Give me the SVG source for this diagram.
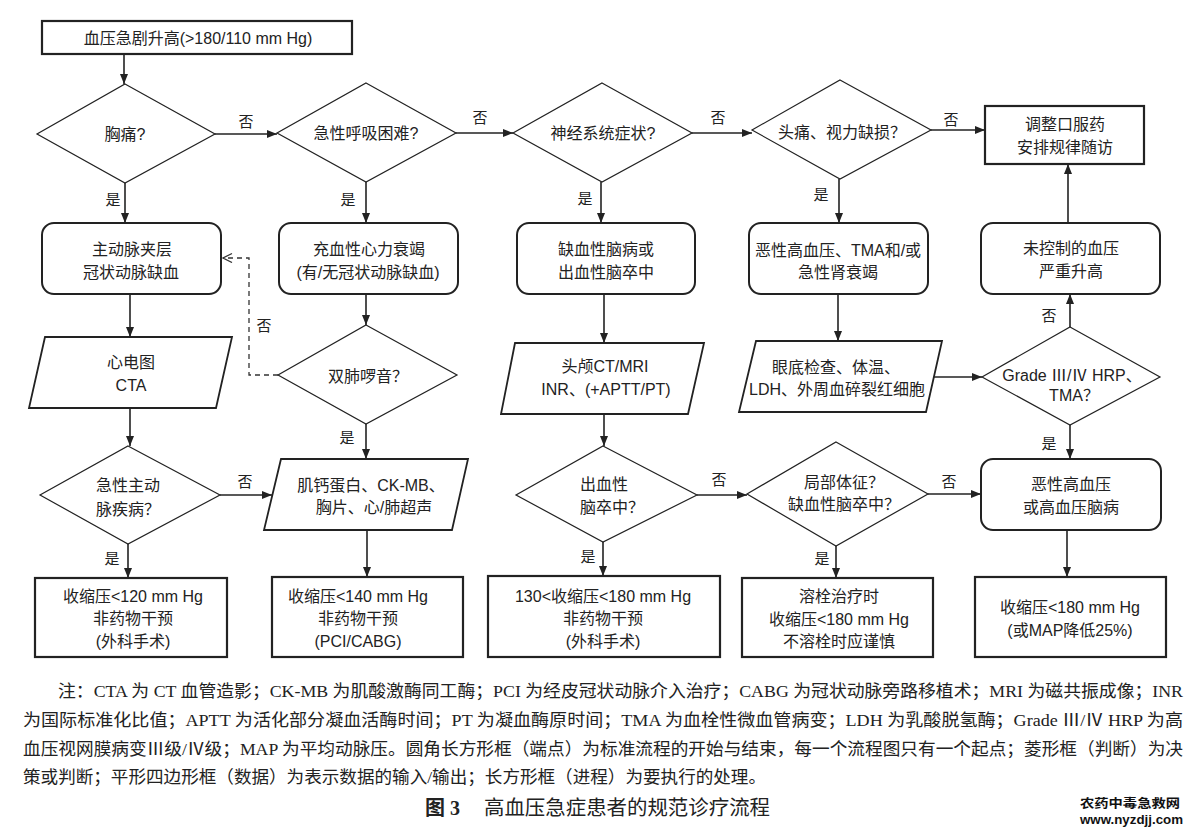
<svg xmlns="http://www.w3.org/2000/svg" width="1191" height="832" viewBox="0 0 1191 832">
<style>
.t{font-family:"Liberation Sans","Noto Sans CJK SC",sans-serif;font-size:16px;fill:#222;text-anchor:middle;dominant-baseline:central}
.lb{font-family:"Noto Sans CJK SC",sans-serif;font-size:15px;fill:#222;text-anchor:middle;dominant-baseline:central}
.box{fill:#fff;stroke:#222;stroke-width:2.2}
.rbox{fill:#fff;stroke:#222;stroke-width:2}
.dia{fill:#fff;stroke:#222;stroke-width:1.2}
.par{fill:#fff;stroke:#222;stroke-width:1.8}
.ln{fill:none;stroke:#222;stroke-width:1.6}
.dash{fill:none;stroke:#333;stroke-width:1.3;stroke-dasharray:5,4}
.note{font-family:"Liberation Serif","Noto Sans CJK SC",serif;font-size:17.5px;fill:#222}
</style>
<defs>
<marker id="ah" markerUnits="userSpaceOnUse" markerWidth="10" markerHeight="8" refX="10" refY="4" orient="auto">
<path d="M0,0 L10,4 L0,8 z" fill="#222"/>
</marker>
<marker id="ao" markerUnits="userSpaceOnUse" markerWidth="12" markerHeight="12" refX="10" refY="5" orient="auto">
<path d="M1,0.5 L10,5 L1,9.5" fill="none" stroke="#333" stroke-width="1.3"/>
</marker>
</defs>
<rect width="1191" height="832" fill="#fff"/>

<g id="connectors">
<path class="ln" d="M124,54 V84" marker-end="url(#ah)"/>
<path class="ln" d="M215,134 H277" marker-end="url(#ah)"/>
<path class="ln" d="M456,133 H513" marker-end="url(#ah)"/>
<path class="ln" d="M692,133 H752" marker-end="url(#ah)"/>
<path class="ln" d="M931,130 H985" marker-end="url(#ah)"/>
<path class="ln" d="M125,183 V223" marker-end="url(#ah)"/>
<path class="ln" d="M366,182 V223" marker-end="url(#ah)"/>
<path class="ln" d="M601,182 V223" marker-end="url(#ah)"/>
<path class="ln" d="M839,179 V223" marker-end="url(#ah)"/>
<path class="ln" d="M1068,223 V164" marker-end="url(#ah)"/>
<path class="ln" d="M130,294 V337" marker-end="url(#ah)"/>
<path class="ln" d="M366,294 V325" marker-end="url(#ah)"/>
<path class="ln" d="M604,294 V343" marker-end="url(#ah)"/>
<path class="ln" d="M838,294 V341" marker-end="url(#ah)"/>
<path class="dash" d="M278,375 H249 V258 H223" marker-end="url(#ao)"/>
<path class="ln" d="M934,377 H982" marker-end="url(#ah)"/>
<path class="ln" d="M1070,327 V294" marker-end="url(#ah)"/>
<path class="ln" d="M1070,425 V459" marker-end="url(#ah)"/>
<path class="ln" d="M130,408 V446" marker-end="url(#ah)"/>
<path class="ln" d="M366,424 V459" marker-end="url(#ah)"/>
<path class="ln" d="M604,414 V446" marker-end="url(#ah)"/>
<path class="ln" d="M220,495 H272" marker-end="url(#ah)"/>
<path class="ln" d="M697,495 H747" marker-end="url(#ah)"/>
<path class="ln" d="M928,494 H981" marker-end="url(#ah)"/>
<path class="ln" d="M128,544 V578" marker-end="url(#ah)"/>
<path class="ln" d="M367,530 V577" marker-end="url(#ah)"/>
<path class="ln" d="M603,542 V576" marker-end="url(#ah)"/>
<path class="ln" d="M836,546 V578" marker-end="url(#ah)"/>
<path class="ln" d="M1067,530 V577" marker-end="url(#ah)"/>
<g id="edge-labels">
<text class="lb" x="246" y="120">否</text>
<text class="lb" x="480" y="116">否</text>
<text class="lb" x="718" y="116">否</text>
<text class="lb" x="951" y="118">否</text>
<text class="lb" x="113" y="198">是</text>
<text class="lb" x="348" y="198">是</text>
<text class="lb" x="585" y="197">是</text>
<text class="lb" x="821" y="193">是</text>
<text class="lb" x="264" y="324">否</text>
<text class="lb" x="347" y="436">是</text>
<text class="lb" x="1049" y="314">否</text>
<text class="lb" x="1049" y="442">是</text>
<text class="lb" x="245" y="480">否</text>
<text class="lb" x="719" y="478">否</text>
<text class="lb" x="949" y="480">否</text>
<text class="lb" x="112" y="557">是</text>
<text class="lb" x="588" y="555">是</text>
<text class="lb" x="822" y="557">是</text>
</g>
</g>

<g id="start">
<rect class="box" x="42" y="21" width="310" height="33"/>
<text class="t" x="198" y="38">血压急剧升高(&gt;180/110 mm Hg)</text>
</g>

<g id="d-chest">
<polygon class="dia" points="125,84 215,134 125,183 37,134"/>
<text class="t" x="125" y="134">胸痛?</text>
</g>
<g id="d-breath">
<polygon class="dia" points="366,83 456,133 366,182 277,133"/>
<text class="t" x="366" y="133">急性呼吸困难?</text>
</g>
<g id="d-neuro">
<polygon class="dia" points="602,83 692,133 602,182 513,133"/>
<text class="t" x="603" y="133">神经系统症状?</text>
</g>
<g id="d-headache">
<polygon class="dia" points="840,80 931,130 840,179 752,130"/>
<text class="t" x="842" y="132">头痛、视力缺损？</text>
</g>
<g id="followup">
<rect class="box" x="985" y="106" width="159" height="58"/>
<text class="t" x="1065" y="124">调整口服药</text>
<text class="t" x="1065" y="147">安排规律随访</text>
</g>

<g id="aortic">
<rect class="rbox" x="42" y="223" width="179" height="71" rx="12"/>
<text class="t" x="132" y="249">主动脉夹层</text>
<text class="t" x="131" y="272">冠状动脉缺血</text>
</g>
<g id="chf">
<rect class="rbox" x="279" y="223" width="179" height="71" rx="12"/>
<text class="t" x="369" y="249">充血性心力衰竭</text>
<text class="t" x="368" y="272">(有/无冠状动脉缺血)</text>
</g>
<g id="stroke">
<rect class="rbox" x="517" y="223" width="178" height="71" rx="12"/>
<text class="t" x="606" y="249">缺血性脑病或</text>
<text class="t" x="606" y="272">出血性脑卒中</text>
</g>
<g id="malignant">
<rect class="rbox" x="749" y="223" width="179" height="71" rx="12"/>
<text class="t" x="838" y="250">恶性高血压、TMA和/或</text>
<text class="t" x="838" y="272">急性肾衰竭</text>
</g>
<g id="uncontrolled">
<rect class="rbox" x="981" y="223" width="179" height="71" rx="12"/>
<text class="t" x="1071" y="248">未控制的血压</text>
<text class="t" x="1071" y="271">严重升高</text>
</g>

<g id="p-ecg">
<polygon class="par" points="45,337 232,337 216,408 29,408"/>
<text class="t" x="131" y="362">心电图</text>
<text class="t" x="131" y="385">CTA</text>
</g>
<g id="d-rales">
<polygon class="dia" points="366,325 457,375 366,424 278,375"/>
<text class="t" x="368" y="376">双肺啰音？</text>
</g>
<g id="p-headct">
<polygon class="par" points="515,343 704,343 688,414 501,414"/>
<text class="t" x="605" y="366">头颅CT/MRI</text>
<text class="t" x="606" y="389">INR、(+APTT/PT)</text>
</g>
<g id="p-fundus">
<polygon class="par" points="756,341 942,341 926,412 739,412"/>
<text class="t" x="836" y="367">眼底检查、体温、</text>
<text class="t" x="837" y="389">LDH、外周血碎裂红细胞</text>
</g>
<g id="d-grade">
<polygon class="dia" points="1070,327 1160,377 1070,425 982,377"/>
<text class="t" x="1072" y="375">Grade Ⅲ/Ⅳ HRP、</text>
<text class="t" x="1074" y="395">TMA？</text>
</g>

<g id="d-aortic">
<polygon class="dia" points="128,446 220,495 128,544 40,495"/>
<text class="t" x="128" y="485">急性主动</text>
<text class="t" x="128" y="509">脉疾病？</text>
</g>
<g id="p-troponin">
<polygon class="par" points="281,459 468,459 452,530 264,530"/>
<text class="t" x="371" y="485">肌钙蛋白、CK-MB、</text>
<text class="t" x="374" y="507">胸片、心/肺超声</text>
</g>
<g id="d-hemorrhagic">
<polygon class="dia" points="603,446 697,495 603,542 516,495"/>
<text class="t" x="580" y="484" style="text-anchor:start">出血性</text>
<text class="t" x="580" y="507" style="text-anchor:start">脑卒中？</text>
</g>
<g id="d-focal">
<polygon class="dia" points="836,442 928,494 836,546 747,494"/>
<text class="t" x="844" y="482">局部体征？</text>
<text class="t" x="844" y="504">缺血性脑卒中？</text>
</g>
<g id="enceph">
<rect class="rbox" x="981" y="459" width="180" height="71" rx="12"/>
<text class="t" x="1071" y="484">恶性高血压</text>
<text class="t" x="1071" y="507">或高血压脑病</text>
</g>

<g id="target1">
<rect class="box" x="35" y="578" width="192" height="79"/>
<text class="t" x="133" y="596">收缩压&lt;120 mm Hg</text>
<text class="t" x="133" y="618">非药物干预</text>
<text class="t" x="133" y="641">(外科手术)</text>
</g>
<g id="target2">
<rect class="box" x="272" y="577" width="191" height="80"/>
<text class="t" x="358" y="596">收缩压&lt;140 mm Hg</text>
<text class="t" x="358" y="618">非药物干预</text>
<text class="t" x="358" y="641">(PCI/CABG)</text>
</g>
<g id="target3">
<rect class="box" x="488" y="576" width="232" height="81"/>
<text class="t" x="603" y="596">130&lt;收缩压&lt;180 mm Hg</text>
<text class="t" x="603" y="618">非药物干预</text>
<text class="t" x="603" y="641">(外科手术)</text>
</g>
<g id="target4">
<rect class="box" x="742" y="578" width="191" height="79"/>
<text class="t" x="839" y="596">溶栓治疗时</text>
<text class="t" x="839" y="619">收缩压&lt;180 mm Hg</text>
<text class="t" x="839" y="641">不溶栓时应谨慎</text>
</g>
<g id="target5">
<rect class="box" x="975" y="577" width="191" height="80"/>
<text class="t" x="1070" y="607">收缩压&lt;180 mm Hg</text>
<text class="t" x="1070" y="630">(或MAP降低25%)</text>
</g>

<g id="footnote">
<text class="note" x="58" y="697" textLength="1125" lengthAdjust="spacingAndGlyphs">注：CTA 为 CT 血管造影；CK-MB 为肌酸激酶同工酶；PCI 为经皮冠状动脉介入治疗；CABG 为冠状动脉旁路移植术；MRI 为磁共振成像；INR</text>
<text class="note" x="23" y="726" textLength="1160" lengthAdjust="spacingAndGlyphs">为国际标准化比值；APTT 为活化部分凝血活酶时间；PT 为凝血酶原时间；TMA 为血栓性微血管病变；LDH 为乳酸脱氢酶；Grade Ⅲ/Ⅳ HRP 为高</text>
<text class="note" x="23" y="755" textLength="1160" lengthAdjust="spacingAndGlyphs">血压视网膜病变Ⅲ级/Ⅳ级；MAP 为平均动脉压。圆角长方形框（端点）为标准流程的开始与结束，每一个流程图只有一个起点；菱形框（判断）为决</text>
<text class="note" x="23" y="783" textLength="743" lengthAdjust="spacingAndGlyphs">策或判断；平形四边形框（数据）为表示数据的输入/输出；长方形框（进程）为要执行的处理。</text>
</g>
<g id="caption">
<text class="note" x="425" y="815" style="font-size:20px;font-weight:bold">图 3</text>
<text class="note" x="484" y="815" style="font-size:20px" textLength="286" lengthAdjust="spacingAndGlyphs">高血压急症患者的规范诊疗流程</text>
</g>
<g id="watermark">
<text x="1080" y="808" style="font-family:'Noto Sans CJK SC',sans-serif;font-size:12.5px;font-weight:bold;fill:#111" textLength="100" lengthAdjust="spacingAndGlyphs">农药中毒急救网</text>
<text x="1080" y="824" style="font-family:'Liberation Sans',sans-serif;font-size:13px;font-weight:bold;fill:#111" textLength="103" lengthAdjust="spacingAndGlyphs">www.nyzdjj.com</text>
</g>
</svg>
